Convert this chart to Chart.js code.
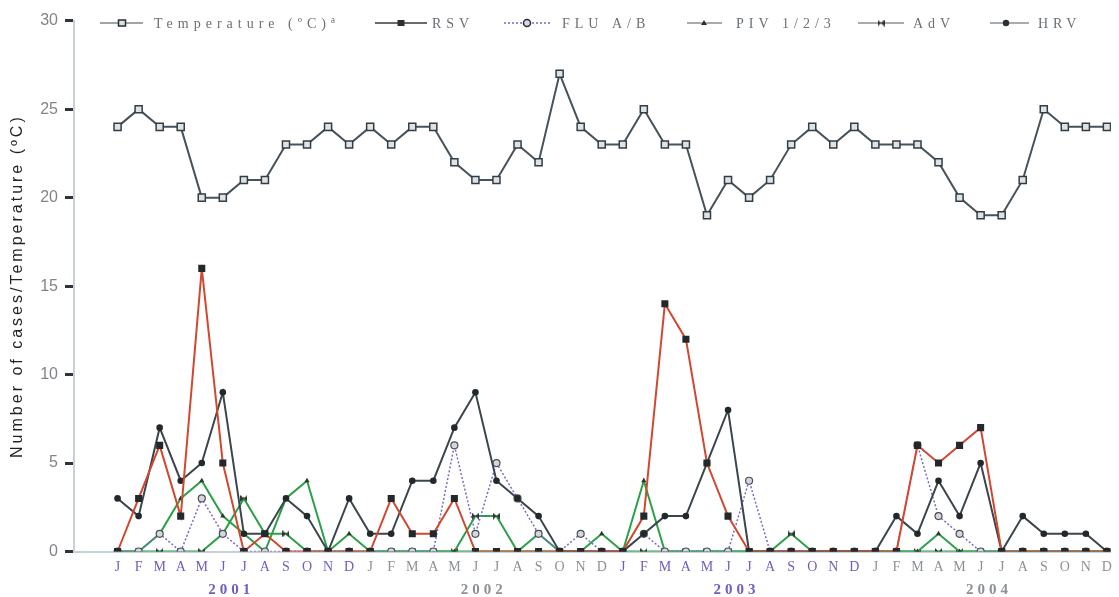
<!DOCTYPE html>
<html>
<head>
<meta charset="utf-8">
<script src="https://cdn.jsdelivr.net/npm/chart.js@4.4.1/dist/chart.umd.min.js"></script>
<style>
html,body{margin:0;padding:0;background:#ffffff;}
canvas{display:block;}
</style>
</head>
<body>
<canvas id="chart" width="1119" height="597"></canvas>
<script>
// ---------------- data ----------------
const MONTHS = ['J','F','M','A','M','J','J','A','S','O','N','D'];
const monthLabels = [].concat(MONTHS, MONTHS, MONTHS, MONTHS);
const yearLabels = ['2001', '2002', '2003', '2004'];
const yTickValues = [0, 5, 10, 15, 20, 25, 30];

const temperature = [24,25,24,24,20,20,21,21,23,23,24,23, 24,23,24,24,22,21,21,23,22,27,24,23,
                     23,25,23,23,19,21,20,21,23,24,23,24, 23,23,23,22,20,19,19,21,25,24,24,24];
const rsv  = [0,3,6,2,16,5,0,1,0,0,0,0, 0,3,1,1,3,0,0,0,0,0,0,0,
              0,2,14,12,5,2,0,0,0,0,0,0, 0,0,6,5,6,7,0,0,0,0,0,0];
const flu  = [0,0,1,0,3,1,0,0,0,0,0,0, 0,0,0,0,6,1,5,3,1,0,1,0,
              0,1,0,0,0,0,4,0,0,0,0,0, 0,0,6,2,1,0,0,0,0,0,0,0];
const piv  = [0,0,1,3,4,2,1,0,3,4,0,1, 0,0,0,0,0,0,0,0,0,0,0,1,
              0,4,0,0,0,0,0,0,0,0,0,0, 0,0,0,1,0,0,0,0,0,0,0,0];
const adv  = [0,0,0,0,0,1,3,1,1,0,0,0, 0,0,0,0,0,2,2,0,1,0,0,0,
              0,0,0,0,0,0,0,0,1,0,0,0, 0,0,0,0,0,0,0,0,0,0,0,0];
const hrv  = [3,2,7,4,5,9,1,1,3,2,0,3, 1,1,4,4,7,9,4,3,2,0,0,0,
              0,1,2,2,5,8,0,0,0,0,0,0, 0,2,1,4,2,5,0,2,1,1,1,0];

const seriesNames = ['Temperature (ºC)ª', 'RSV', 'FLU A/B', 'PIV 1/2/3', 'AdV', 'HRV'];

// ---------------- styles ----------------
const PURPLE = '#6c60c2';
const GREYLBL = '#8c9197';
const RED = '#d2472f';
const GREEN = '#2aa146';
const DARK = '#3a454c';
const FLUC = '#7a68cc';

function bowtie(size, color) {
  const c = document.createElement('canvas');
  c.width = size; c.height = size;
  const g = c.getContext('2d');
  g.fillStyle = color;
  g.beginPath();
  g.moveTo(0, 0); g.lineTo(size / 2, size / 2); g.lineTo(0, size); g.closePath();
  g.moveTo(size, 0); g.lineTo(size / 2, size / 2); g.lineTo(size, size); g.closePath();
  g.fill();
  return c;
}
const bowtieImg = bowtie(7, '#333');

function pts(arr) { return arr.map((v, i) => ({x: i, y: v})); }

function withSpacing(scale, method, spacing) {
  if (scale['__ls_' + method]) return;
  const orig = scale[method];
  scale[method] = function () {
    const c = this.ctx; c.save(); c.letterSpacing = spacing;
    orig.apply(this, arguments); c.restore();
  };
  scale['__ls_' + method] = true;
}

// ---------------- custom legend ----------------
const legendLayout = [
  {x0: 100, x1: 143, mx: 122, tx: 154, line: '#7e878d', dash: [], marker: 'rect-open'},
  {x0: 375, x1: 427, mx: 401, tx: 432, line: '#3a3a3a', dash: [], marker: 'rect'},
  {x0: 504, x1: 552, mx: 527, tx: 562, line: FLUC, dash: [2, 2], marker: 'circle-open'},
  {x0: 687, x1: 722, mx: 704, tx: 736, line: '#8a9197', dash: [], marker: 'triangle'},
  {x0: 858, x1: 904, mx: 881, tx: 913, line: '#8a9197', dash: [], marker: 'bowtie'},
  {x0: 990, x1: 1029, mx: 1006, tx: 1038, line: '#8a9197', dash: [], marker: 'circle'}
];
const LEG_Y = 23;

function drawMarker(ctx, type, x, y) {
  ctx.save();
  ctx.setLineDash([]);
  ctx.fillStyle = '#2a2f33';
  ctx.strokeStyle = '#2a2f33';
  ctx.lineWidth = 1.5;
  if (type === 'rect-open') {
    ctx.fillStyle = '#dde1e4';
    ctx.fillRect(x - 3.5, y - 3, 7, 6);
    ctx.strokeRect(x - 3.5, y - 3, 7, 6);
  } else if (type === 'rect') {
    ctx.fillRect(x - 3.5, y - 3, 7, 6);
  } else if (type === 'circle-open') {
    ctx.fillStyle = '#d9d9e2';
    ctx.beginPath(); ctx.arc(x, y, 3.5, 0, Math.PI * 2); ctx.fill(); ctx.stroke();
  } else if (type === 'triangle') {
    ctx.beginPath(); ctx.moveTo(x, y - 3); ctx.lineTo(x + 3, y + 2); ctx.lineTo(x - 3, y + 2); ctx.closePath(); ctx.fill();
  } else if (type === 'bowtie') {
    ctx.drawImage(bowtieImg, x - 3.5, y - 3.5);
  } else if (type === 'circle') {
    ctx.beginPath(); ctx.arc(x, y, 3.2, 0, Math.PI * 2); ctx.fill();
  }
  ctx.restore();
}

const legendPlugin = {
  id: 'customLegend',
  afterDraw(chart) {
    const ctx = chart.ctx;
    ctx.save();
    legendLayout.forEach((it, i) => {
      ctx.beginPath();
      ctx.setLineDash(it.dash);
      ctx.strokeStyle = it.line;
      ctx.lineWidth = 1.5;
      ctx.moveTo(it.x0, LEG_Y); ctx.lineTo(it.x1, LEG_Y);
      ctx.stroke();
      drawMarker(ctx, it.marker, it.mx, LEG_Y);
      ctx.setLineDash([]);
      ctx.font = '14px "Liberation Serif", "DejaVu Serif", serif';
      ctx.letterSpacing = '5px';
      ctx.fillStyle = '#6a7075';
      ctx.textBaseline = 'middle';
      ctx.textAlign = 'left';
      ctx.fillText(seriesNames[i], it.tx, LEG_Y + 1);
    });
    ctx.restore();
  }
};

// ---------------- chart ----------------
const X_MIN = -2.07, X_MAX = 47.19;

new Chart(document.getElementById('chart'), {
  type: 'line',
  data: {
    datasets: [
      {label: seriesNames[1], data: pts(rsv), borderColor: RED, borderWidth: 2,
       pointStyle: 'rect', pointRadius: 5, pointBackgroundColor: '#23282b', pointBorderColor: '#23282b', pointBorderWidth: 0},
      {label: seriesNames[5], data: pts(hrv), borderColor: DARK, borderWidth: 2,
       pointStyle: 'circle', pointRadius: 3.3, pointBackgroundColor: '#23282b', pointBorderColor: '#23282b', pointBorderWidth: 0},
      {label: seriesNames[2], data: pts(flu), borderColor: FLUC, borderWidth: 1.5, borderDash: [2, 2],
       pointStyle: 'circle', pointRadius: 3.5, pointBackgroundColor: '#d6d6de', pointBorderColor: '#4a4f55', pointBorderWidth: 1.2},
      {label: seriesNames[3], data: pts(piv), borderColor: GREEN, borderWidth: 2,
       pointStyle: 'triangle', pointRadius: 3, pointBackgroundColor: '#333', pointBorderColor: '#333', pointBorderWidth: 0},
      {label: seriesNames[4], data: pts(adv), borderColor: GREEN, borderWidth: 2,
       pointStyle: bowtieImg, pointRadius: 3.5},
      {label: seriesNames[0], data: pts(temperature), borderColor: '#46535b', borderWidth: 2,
       pointStyle: 'rect', pointRadius: 5, pointBackgroundColor: '#dfe3e6', pointBorderColor: '#333d44', pointBorderWidth: 1.5}
    ]
  },
  options: {
    responsive: false,
    animation: false,
    devicePixelRatio: 1,
    layout: {padding: {top: 20.7, left: 0, right: 0, bottom: 0}},
    elements: {line: {tension: 0}},
    plugins: {legend: {display: false}, tooltip: {enabled: false}},
    scales: {
      x: {
        type: 'linear', position: 'bottom', weight: 0,
        min: X_MIN, max: X_MAX,
        afterBuildTicks: (s) => { s.ticks = monthLabels.map((m, i) => ({value: i})); },
        afterFit: (s) => { s.height = 21.5; },
        ticks: {
          autoSkip: false, maxRotation: 0, minRotation: 0, padding: 7,
          callback: (v, i) => monthLabels[i],
          font: {family: '"Liberation Serif", "DejaVu Serif", serif', size: 14},
          color: (c) => (Math.floor(c.index / 12) % 2 === 0 ? PURPLE : GREYLBL)
        },
        grid: {display: true, drawOnChartArea: false, drawTicks: false},
        border: {display: true, color: '#c7cfd9', width: 2}
      },
      x2: {
        type: 'linear', position: 'bottom', weight: 1,
        min: X_MIN, max: X_MAX,
        afterBuildTicks: (s) => { s.ticks = yearLabels.map((y, k) => ({value: 12 * k + 5.4})); },
        afterFit: (s) => { s.height = 24; },
        afterUpdate: (s) => { withSpacing(s, 'drawLabels', '4px'); },
        ticks: {
          autoSkip: false, maxRotation: 0, minRotation: 0, padding: 8,
          callback: (v, i) => yearLabels[i],
          font: {family: '"Liberation Serif", "DejaVu Serif", serif', size: 15, weight: 'bold'},
          color: (c) => (c.index % 2 === 0 ? PURPLE : GREYLBL)
        },
        grid: {display: false, drawTicks: false},
        border: {display: false}
      },
      y: {
        type: 'linear', position: 'left', min: 0, max: 30,
        afterBuildTicks: (s) => { s.ticks = yTickValues.map(v => ({value: v})); },
        afterFit: (s) => { s.width = 74; },
        afterUpdate: (s) => { withSpacing(s, 'drawTitle', '3px'); },
        ticks: {
          padding: 7,
          font: {family: '"Liberation Sans", Arial, sans-serif', size: 16},
          color: '#7f858b'
        },
        grid: {display: true, drawOnChartArea: false, drawTicks: true, tickLength: 9, tickColor: '#2f3438', tickWidth: 3},
        border: {display: true, color: '#c7cfd9', width: 2},
        title: {
          display: true, text: 'Number of cases/Temperature (ºC)',
          font: {family: '"Liberation Sans", Arial, sans-serif', size: 16},
          color: '#1f2326', padding: {top: 8, bottom: 0}
        }
      }
    }
  },
  plugins: [legendPlugin]
});
</script>
</body>
</html>
